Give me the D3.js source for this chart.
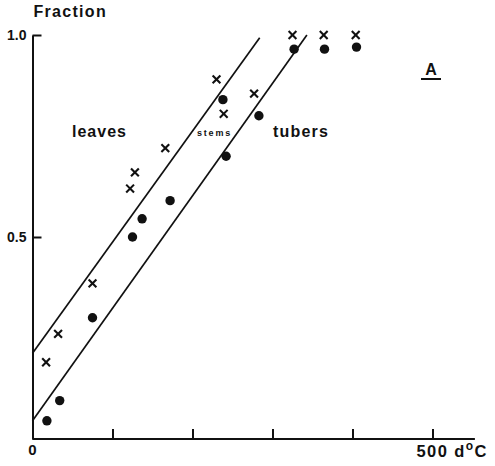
<!DOCTYPE html>
<html>
<head>
<meta charset="utf-8">
<script src="https://cdn.jsdelivr.net/npm/d3@7"></script>
<style>
  body { margin: 0; background: #fff; }
  text { font-family: "Liberation Sans", Arial, sans-serif; font-weight: bold; fill: #111; }
</style>
</head>
<body>
<div id="chart"></div>
<script>
// thermal time (d oC) and fraction, crosses and dots
var crossX = [17, 32, 75, 122, 128, 166, 230, 239, 277, 325, 364, 404];
var crossY = [0.19, 0.26, 0.385, 0.62, 0.66, 0.72, 0.89, 0.805, 0.855, 1.0, 1.0, 1.0];
var dotX = [18, 34, 75, 125, 137, 172, 238, 242, 283, 327, 365, 405];
var dotY = [0.045, 0.095, 0.30, 0.50, 0.545, 0.59, 0.84, 0.70, 0.80, 0.965, 0.965, 0.97];

// fitted lines, [x, fraction] end points
var upperLine = [[0, 0.212], [284, 0.993]];
var lowerLine = [[0, 0.045], [343, 1.0]];

var xTicks = [0, 100, 200, 300, 400, 500];
var yTicks = [0.5, 1.0];

var width = 495, height = 466;

var x = d3.scaleLinear().domain([0, 500]).range([32.5, 432.5]);
var y = d3.scaleLinear().domain([0, 1]).range([439, 35]);

var svg = d3.select("#chart").append("svg")
    .attr("width", width)
    .attr("height", height);

// x axis: ticks point up, line runs past 500
svg.append("line")
    .attr("x1", x(0)).attr("x2", x(553))
    .attr("y1", y(0)).attr("y2", y(0))
    .attr("stroke", "#111").attr("stroke-width", 2);

var xAxis = d3.axisBottom(x)
    .tickValues(xTicks.slice(1))
    .tickSizeInner(-10)
    .tickSizeOuter(0)
    .tickFormat("");
var gx = svg.append("g")
    .attr("transform", "translate(0," + y(0) + ")")
    .call(xAxis);
gx.select(".domain").remove();
gx.selectAll(".tick line").attr("stroke", "#111").attr("stroke-width", 2);

// y axis: ticks point right
var yAxis = d3.axisLeft(y)
    .tickValues(yTicks)
    .tickSizeInner(-9)
    .tickSizeOuter(0)
    .tickPadding(6)
    .tickFormat(d3.format(".1f"));
var gy = svg.append("g")
    .attr("transform", "translate(" + x(0) + ",0)")
    .call(yAxis);
gy.select(".domain").attr("stroke", "#111").attr("stroke-width", 2);
gy.selectAll(".tick line").attr("stroke", "#111").attr("stroke-width", 2);
gy.selectAll(".tick text")
    .attr("font-size", 14)
    .attr("font-family", "Liberation Sans, Arial, sans-serif")
    .attr("font-weight", "bold")
    .attr("fill", "#111");

// axis labels
svg.append("text")
    .attr("x", x(0) + 1).attr("y", 17)
    .attr("font-size", 16)
    .attr("letter-spacing", 1.3)
    .text("Fraction");

svg.append("text")
    .attr("x", x(0)).attr("y", 455)
    .attr("text-anchor", "middle")
    .attr("font-size", 15)
    .text("0");

var unit = svg.append("text")
    .attr("x", x(500) - 16).attr("y", 457)
    .attr("font-size", 16.5)
    .attr("letter-spacing", 1.4);
unit.append("tspan").text("500 d");
unit.append("tspan").attr("font-size", 12).attr("dy", -7).text("o");
unit.append("tspan").attr("dy", 7).text("C");

// fitted lines
var line = d3.line()
    .x(d => x(d[0]))
    .y(d => y(d[1]));

[upperLine, lowerLine].forEach(function(pts) {
  svg.append("path")
      .attr("d", line(pts))
      .attr("fill", "none")
      .attr("stroke", "#111")
      .attr("stroke-width", 1.7);
});

// dots
svg.selectAll("circle.dot")
    .data(dotX.map((d, i) => [d, dotY[i]]))
    .enter().append("circle")
      .attr("class", "dot")
      .attr("cx", d => x(d[0]))
      .attr("cy", d => y(d[1]))
      .attr("r", 4.7)
      .attr("fill", "#111");

// crosses
var cs = 3.9;
var crosses = svg.selectAll("g.cross")
    .data(crossX.map((d, i) => [d, crossY[i]]))
    .enter().append("g")
      .attr("class", "cross")
      .attr("transform", d => "translate(" + x(d[0]) + "," + y(d[1]) + ")");
crosses.append("line")
    .attr("x1", -cs).attr("y1", -cs).attr("x2", cs).attr("y2", cs);
crosses.append("line")
    .attr("x1", -cs).attr("y1", cs).attr("x2", cs).attr("y2", -cs);
crosses.selectAll("line")
    .attr("stroke", "#111")
    .attr("stroke-width", 2.1);

// region labels
svg.append("text")
    .attr("x", 72).attr("y", 137)
    .attr("font-size", 16)
    .attr("letter-spacing", 1)
    .text("leaves");

svg.append("text")
    .attr("x", 197).attr("y", 136)
    .attr("font-size", 9)
    .attr("letter-spacing", 1.8)
    .text("stems");

svg.append("text")
    .attr("x", 273).attr("y", 137)
    .attr("font-size", 16)
    .attr("letter-spacing", 1.2)
    .text("tubers");

// panel letter
svg.append("text")
    .attr("x", 431).attr("y", 75)
    .attr("text-anchor", "middle")
    .attr("font-size", 16)
    .text("A");
svg.append("line")
    .attr("x1", 421).attr("x2", 441)
    .attr("y1", 79).attr("y2", 79)
    .attr("stroke", "#111").attr("stroke-width", 2);
</script>
</body>
</html>
